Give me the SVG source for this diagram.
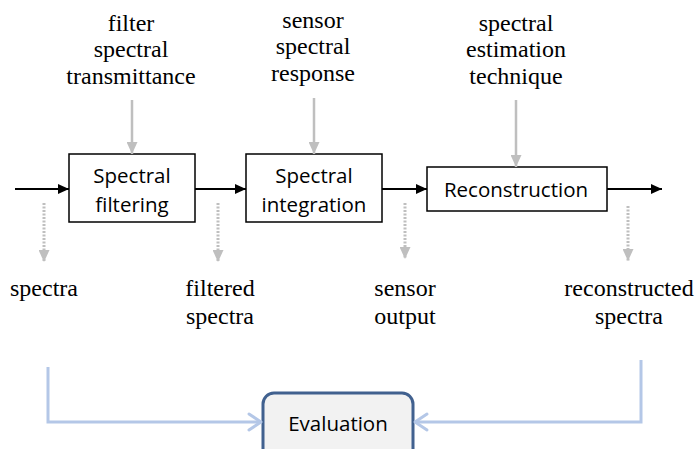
<svg xmlns="http://www.w3.org/2000/svg" width="696" height="449" viewBox="0 0 696 449">
  <style>
    .box { fill: #ffffff; stroke: #000000; stroke-width: 1.5; }
    .boxtext { font-family: "Open Sans", "Liberation Sans", sans-serif; font-size: 20.5px; fill: #000000; text-anchor: middle; }
    .label { font-family: "Liberation Serif", "Times New Roman", serif; font-size: 24px; fill: #000000; text-anchor: middle; }
    .flow { stroke: #000000; stroke-width: 2; fill: none; marker-end: url(#headBlack); }
    .param { stroke: #bfbfbf; stroke-width: 2.5; fill: none; marker-end: url(#headGray); }
    .probe { stroke: #bfbfbf; stroke-width: 3; stroke-dasharray: 2 1.5; fill: none; marker-end: url(#headGray); }
    .compare { stroke: #b4c7e7; stroke-width: 3; fill: none; stroke-linejoin: miter; }
    .chevron { stroke: #b4c7e7; stroke-width: 3; fill: none; stroke-linecap: round; stroke-linejoin: round; }
    .evalbox { fill: #f2f2f2; stroke: #41618f; stroke-width: 3; }
  </style>
  <defs>
    <marker id="headBlack" markerUnits="userSpaceOnUse" markerWidth="12" markerHeight="10" refX="11" refY="5" orient="auto">
      <path d="M0,0 L11,5 L0,10 z" fill="#000000"/>
    </marker>
    <marker id="headGray" markerUnits="userSpaceOnUse" markerWidth="12" markerHeight="11" refX="12" refY="5.5" orient="auto">
      <path d="M0,0 L12,5.5 L0,11 z" fill="#bfbfbf"/>
    </marker>
  </defs>

  <!-- processing stages -->
  <g id="filtering">
    <rect class="box" x="69" y="154" width="126" height="68"/>
    <text class="boxtext" x="132" y="183">Spectral</text>
    <text class="boxtext" x="132" y="212">filtering</text>
  </g>
  <g id="integration">
    <rect class="box" x="246" y="154" width="136" height="68"/>
    <text class="boxtext" x="314" y="183">Spectral</text>
    <text class="boxtext" x="314" y="212">integration</text>
  </g>
  <g id="reconstruction">
    <rect class="box" x="427" y="167" width="180" height="44"/>
    <text class="boxtext" x="516" y="197">Reconstruction</text>
  </g>
  <g id="evaluation">
    <rect class="evalbox" x="263" y="393" width="150" height="80" rx="11" ry="11"/>
    <text class="boxtext" x="338" y="431">Evaluation</text>
  </g>

  <!-- stage inputs -->
  <g id="filter-transmittance">
    <text class="label" x="131" y="31">filter</text>
    <text class="label" x="131" y="57">spectral</text>
    <text class="label" x="131" y="84">transmittance</text>
  </g>
  <g id="sensor-response">
    <text class="label" x="313" y="28">sensor</text>
    <text class="label" x="313" y="54">spectral</text>
    <text class="label" x="313" y="81">response</text>
  </g>
  <g id="estimation-technique">
    <text class="label" x="516" y="31">spectral</text>
    <text class="label" x="516" y="57">estimation</text>
    <text class="label" x="516" y="84">technique</text>
  </g>

  <!-- signals along the chain -->
  <g id="spectra">
    <text class="label" x="44" y="296">spectra</text>
  </g>
  <g id="filtered-spectra">
    <text class="label" x="220" y="296">filtered</text>
    <text class="label" x="220" y="324">spectra</text>
  </g>
  <g id="sensor-output">
    <text class="label" x="405" y="296">sensor</text>
    <text class="label" x="405" y="324">output</text>
  </g>
  <g id="reconstructed-spectra">
    <text class="label" x="629" y="296">reconstructed</text>
    <text class="label" x="629" y="324">spectra</text>
  </g>

  <g id="connectors">
    <!-- main signal flow -->
    <line class="flow" x1="15" y1="189" x2="69" y2="189"/>
    <line class="flow" x1="195" y1="189" x2="246" y2="189"/>
    <line class="flow" x1="382" y1="189" x2="427" y2="189"/>
    <line class="flow" x1="607" y1="189" x2="662" y2="189"/>

    <!-- parameters fed into each stage -->
    <line class="param" x1="132" y1="100" x2="132" y2="154"/>
    <line class="param" x1="314" y1="98" x2="314" y2="154"/>
    <line class="param" x1="516" y1="100" x2="516" y2="167"/>

    <!-- intermediate signals tapped off -->
    <line class="probe" x1="44" y1="203" x2="44" y2="262"/>
    <line class="probe" x1="218" y1="203" x2="218" y2="262"/>
    <line class="probe" x1="405" y1="203" x2="405" y2="259"/>
    <line class="probe" x1="628" y1="206" x2="628" y2="261"/>

    <!-- comparison paths into evaluation -->
    <polyline class="compare" points="48,367 48,422 261,422"/>
    <polyline class="chevron" points="249,414 261,422 249,430"/>
    <polyline class="compare" points="641,360 641,422 415,422"/>
    <polyline class="chevron" points="427,414 415,422 427,430"/>
  </g>
</svg>
